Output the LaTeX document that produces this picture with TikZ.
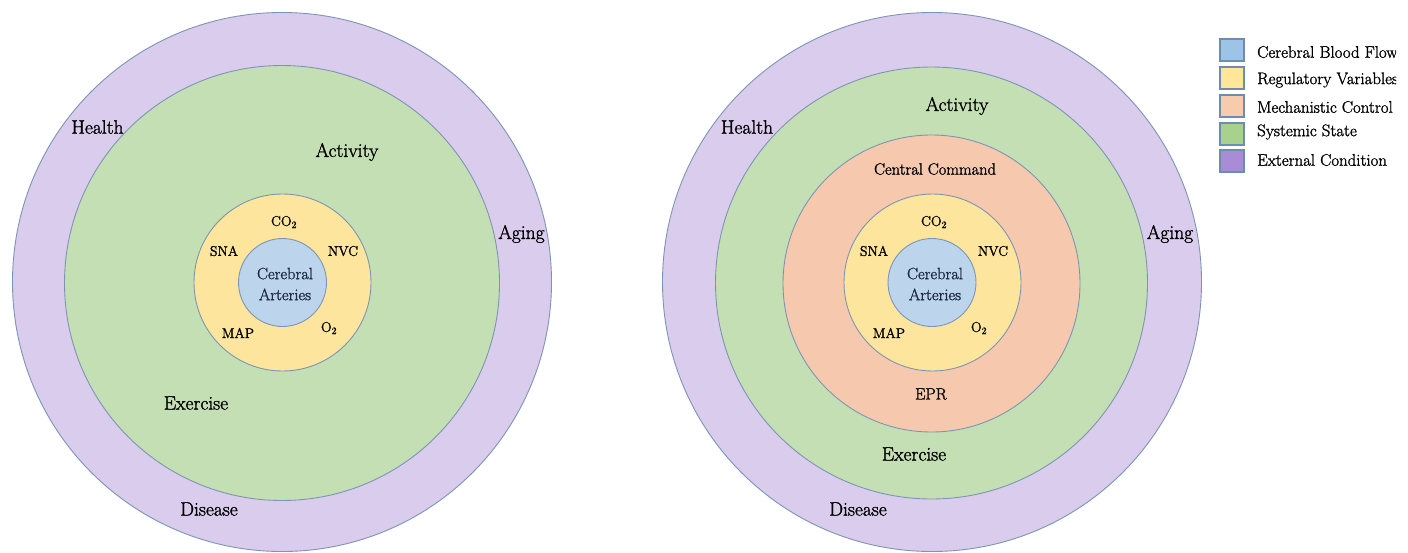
\documentclass[tikz,border=0pt]{standalone}
\usepackage{fontspec}
\setmainfont{Latin Modern Roman}
\newfontfamily\heavyfont{Latin Modern Roman}[FakeBold=1.4]
\definecolor{cpurple}{HTML}{D9CCEC}
\definecolor{cgreen}{HTML}{C5DFB4}
\definecolor{corange}{HTML}{F6C9AF}
\definecolor{cyellow}{HTML}{FDE59D}
\definecolor{cblue}{HTML}{BCD4EC}
\definecolor{cline}{HTML}{7D95B4}
\definecolor{lblue}{HTML}{9DC3E6}
\definecolor{lyellow}{HTML}{FFE699}
\definecolor{lorange}{HTML}{F8CBAD}
\definecolor{lgreen}{HTML}{A9D18E}
\definecolor{lpurple}{HTML}{A98BD6}
\definecolor{lborder}{HTML}{6E8BB0}
\definecolor{navytext}{HTML}{1E2A48}
\tikzset{
  ring/.style={circle, draw=cline, line width=0.9pt, inner sep=0pt, minimum size=#1},
  lbl/.style={font=\heavyfont\fontsize{19.5}{21}\selectfont, inner sep=0pt},
  mlbl/.style={font=\heavyfont\fontsize{16.4}{18}\selectfont, inner sep=0pt},
  slbl/.style={font=\heavyfont\fontsize{14}{15}\selectfont, inner sep=0pt},
  legbox/.style={draw=lborder, line width=1.8pt, minimum width=24pt, minimum height=22pt, inner sep=0pt},
  legtxt/.style={font=\heavyfont\fontsize{16.8}{18}\selectfont, anchor=west, inner sep=0pt}
}
\begin{document}
\begin{tikzpicture}[x=1pt,y=-1pt]
\useasboundingbox (0,0) rectangle (1408,552);
\fill[white] (0,0) rectangle (1408,552);
% ---- left diagram ----
\node[ring=539pt, fill=cpurple] (LO) at (282,282) {};
\node[ring=435pt, fill=cgreen] (LG) at (282,283) {};
\node[ring=177pt, fill=cyellow] (LY) at (282.5,282.5) {};
\node[ring=88pt, fill=cblue] (LB) at (282.5,282.5) {};
\node[lbl] (LHealth) at (97.5,127) {Health};
\node[lbl] (LActivity) at (347,152) {Activity};
\node[lbl] (LAging) at (521.5,234) {Aging};
\node[lbl] (LExercise) at (196,403) {Exercise};
\node[lbl] (LDisease) at (209,509) {Disease};
\node[slbl] (LCO) at (284,222) {CO\textsubscript{2}};
\node[slbl] (LSNA) at (224,251) {SNA};
\node[slbl] (LNVC) at (343,251) {NVC};
\node[slbl] (LMAP) at (238,333) {MAP};
\node[slbl] (LO2) at (329,328) {O\textsubscript{2}};
\node[mlbl, align=center, text=navytext] (LCA) at (285,284) {Cerebral\\[3pt]Arteries};
% ---- right diagram ----
\node[ring=539pt, fill=cpurple] (RO) at (932,282) {};
\node[ring=432pt, fill=cgreen] (RG) at (931.5,283) {};
\node[ring=297pt, fill=corange] (ROr) at (931.5,283.5) {};
\node[ring=177pt, fill=cyellow] (RY) at (932.5,282.5) {};
\node[ring=88pt, fill=cblue] (RB) at (932,282.5) {};
\node[lbl] (RHealth) at (747,127) {Health};
\node[lbl] (RActivity) at (957,106) {Activity};
\node[lbl] (RAging) at (1170,234) {Aging};
\node[mlbl] (RCC) at (935,169) {Central Command};
\node[lbl] (RExercise) at (914,454) {Exercise};
\node[lbl] (RDisease) at (858,509) {Disease};
\node[mlbl] (REPR) at (931,394) {EPR};
\node[slbl] (RCO) at (934,222) {CO\textsubscript{2}};
\node[slbl] (RSNA) at (874,251) {SNA};
\node[slbl] (RNVC) at (993,251) {NVC};
\node[slbl] (RMAP) at (889,333) {MAP};
\node[slbl] (RO2) at (979,328) {O\textsubscript{2}};
\node[mlbl, align=center, text=navytext] (RCA) at (935,284) {Cerebral\\[3pt]Arteries};
% ---- legend ----
\node[legbox, fill=lblue] (K1) at (1232,50) {};
\node[legbox, fill=lyellow] (K2) at (1232,78) {};
\node[legbox, fill=lorange] (K3) at (1232,106) {};
\node[legbox, fill=lgreen] (K4) at (1232,134) {};
\node[legbox, fill=lpurple] (K5) at (1232,161) {};
\begin{scope}
\clip (1250,20) rectangle (1396,190);
\node[legtxt] (T1) at (1257,52) {Cerebral Blood Flow};
\node[legtxt] (T2) at (1257,80) {Regulatory Variables};
\node[legtxt] (T3) at (1257,107) {Mechanistic Control};
\node[legtxt] (T4) at (1257,132) {Systemic State};
\node[legtxt] (T5) at (1257,160) {External Condition};
\end{scope}
\end{tikzpicture}
\end{document}
